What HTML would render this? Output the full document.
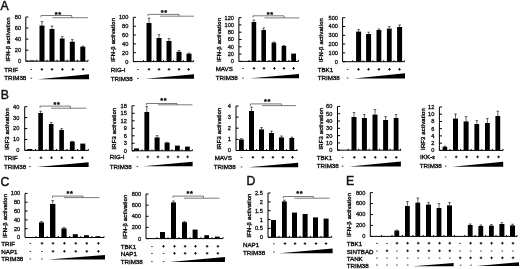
<!DOCTYPE html>
<html><head><meta charset="utf-8"><title>Figure</title>
<style>
html,body{margin:0;padding:0;background:#fff;}
body{width:520px;height:269px;overflow:hidden;}
svg{display:block;font-family:"Liberation Sans",sans-serif;fill:#000;}
.ax{fill:none;stroke:#000;stroke-width:1;}
.er{fill:none;stroke:#111;stroke-width:0.65;}
.br{fill:none;stroke:#444;stroke-width:0.7;}
.pm{fill:none;stroke:#000;stroke-width:0.9;}
.mn{fill:none;stroke:#000;stroke-width:0.8;}
text{fill:#111;stroke:#111;stroke-width:0.3;}
.st{fill:#000;stroke:#000;stroke-width:0.25;}
.tt{stroke-width:0.38;}
.pl{stroke-width:0.45;}
.rl{stroke-width:0.36;}
</style></head><body>
<svg width="520" height="269" viewBox="0 0 520 269">
<rect x="0" y="0" width="520" height="269" fill="#fff"/>
<text x="0.5" y="10.2" font-size="12.2" text-anchor="start" class="pl">A</text>
<text x="0.7" y="98.5" font-size="12.2" text-anchor="start" class="pl">B</text>
<text x="0.6" y="185.5" font-size="12.2" text-anchor="start" class="pl">C</text>
<text x="246.6" y="185.3" font-size="12.2" text-anchor="start" class="pl">D</text>
<text x="346.0" y="185.3" font-size="12.2" text-anchor="start" class="pl">E</text>
<path d="M25.8 17.0V61.2H88.0" class="ax"/>
<path d="M25.8 61.2h2.6" class="ax"/>
<text x="21.1" y="63.1" font-size="5.65" text-anchor="end" >0</text>
<path d="M25.8 50.2h2.6" class="ax"/>
<text x="21.1" y="52.0" font-size="5.65" text-anchor="end" >20</text>
<path d="M25.8 39.1h2.6" class="ax"/>
<text x="21.1" y="41.0" font-size="5.65" text-anchor="end" >40</text>
<path d="M25.8 28.0h2.6" class="ax"/>
<text x="21.1" y="29.9" font-size="5.65" text-anchor="end" >60</text>
<path d="M25.8 17.0h2.6" class="ax"/>
<text x="21.1" y="18.9" font-size="5.65" text-anchor="end" >80</text>
<path d="M36.8 61.2v-1.4" class="ax"/>
<path d="M47.0 61.2v-1.4" class="ax"/>
<path d="M57.0 61.2v-1.4" class="ax"/>
<path d="M67.2 61.2v-1.4" class="ax"/>
<path d="M77.4 61.2v-1.4" class="ax"/>
<path d="M88.0 61.2v-1.4" class="ax"/>
<text transform="translate(9.6 39.4) rotate(-90)" font-size="5.9" text-anchor="middle" letter-spacing="0.17" class="tt">IFN-β activation</text>
<rect x="29.5" y="60.5" width="5.0" height="0.7"/>
<rect x="39.5" y="25.6" width="5.0" height="35.6"/>
<path d="M42.0 25.6V21.6M40.7 21.6h2.6" class="er"/>
<rect x="49.5" y="29.0" width="5.0" height="32.2"/>
<path d="M52.0 29.0V26.0M50.7 26.0h2.6" class="er"/>
<rect x="59.8" y="38.5" width="4.8" height="22.7"/>
<path d="M62.2 38.5V36.6M60.9 36.6h2.6" class="er"/>
<rect x="69.8" y="41.7" width="5.0" height="19.5"/>
<path d="M72.3 41.7V39.6M71.0 39.6h2.6" class="er"/>
<rect x="80.3" y="46.7" width="5.0" height="14.5"/>
<path d="M82.8 46.7V46.1M81.5 46.1h2.6" class="er"/>
<path d="M41.0 17.3V15.5H71.8V17.7M52.6 17.7H87.9" class="br"/>
<text x="58.3" y="16.6" font-size="7.4" text-anchor="middle" font-weight="bold" class="st" letter-spacing="0.6">**</text>
<text x="4.3" y="71.6" font-size="6.2" text-anchor="start" class="rl">TRIF</text>
<path d="M30.6 69.5h1.5" class="mn"/>
<path d="M40.6 69.4h2.6M41.9 68.0v2.6" class="pm"/>
<path d="M50.7 69.4h2.6M52.0 68.0v2.6" class="pm"/>
<path d="M61.1 69.4h2.6M62.4 68.0v2.6" class="pm"/>
<path d="M71.5 69.4h2.6M72.8 68.0v2.6" class="pm"/>
<path d="M81.8 69.4h2.6M83.1 68.0v2.6" class="pm"/>
<text x="4.3" y="80.3" font-size="6.2" text-anchor="start" class="rl">TRIM38</text>
<path d="M30.6 78.2h1.5" class="mn"/>
<path d="M38.0 79.3L89.0 74.3V79.3Z"/>
<path d="M133.3 17.3V61.6H193.6" class="ax"/>
<path d="M133.3 61.6h2.6" class="ax"/>
<text x="128.3" y="63.5" font-size="5.65" text-anchor="end" >0</text>
<path d="M133.3 52.7h2.6" class="ax"/>
<text x="128.3" y="54.6" font-size="5.65" text-anchor="end" >20</text>
<path d="M133.3 43.9h2.6" class="ax"/>
<text x="128.3" y="45.8" font-size="5.65" text-anchor="end" >40</text>
<path d="M133.3 35.0h2.6" class="ax"/>
<text x="128.3" y="36.9" font-size="5.65" text-anchor="end" >60</text>
<path d="M133.3 26.2h2.6" class="ax"/>
<text x="128.3" y="28.0" font-size="5.65" text-anchor="end" >80</text>
<path d="M133.3 17.3h2.6" class="ax"/>
<text x="128.3" y="19.2" font-size="5.65" text-anchor="end" >100</text>
<path d="M143.5 61.6v-1.4" class="ax"/>
<path d="M153.5 61.6v-1.4" class="ax"/>
<path d="M163.5 61.6v-1.4" class="ax"/>
<path d="M173.5 61.6v-1.4" class="ax"/>
<path d="M183.5 61.6v-1.4" class="ax"/>
<path d="M193.6 61.6v-1.4" class="ax"/>
<text transform="translate(115.2 39.8) rotate(-90)" font-size="5.9" text-anchor="middle" letter-spacing="0.17" class="tt">IFN-β activation</text>
<rect x="146.5" y="23.0" width="5.0" height="38.6"/>
<path d="M149.0 23.0V18.2M147.7 18.2h2.6" class="er"/>
<rect x="156.5" y="38.0" width="5.0" height="23.6"/>
<path d="M159.0 38.0V34.6M157.7 34.6h2.6" class="er"/>
<rect x="166.5" y="41.0" width="5.0" height="20.6"/>
<path d="M169.0 41.0V38.6M167.7 38.6h2.6" class="er"/>
<rect x="176.5" y="51.8" width="5.0" height="9.8"/>
<path d="M179.0 51.8V50.6M177.7 50.6h2.6" class="er"/>
<rect x="186.5" y="53.7" width="5.0" height="7.9"/>
<path d="M189.0 53.7V53.1M187.7 53.1h2.6" class="er"/>
<path d="M148.0 16.2V14.4H179.0V16.2M160.0 16.2H194.0" class="br"/>
<text x="164.3" y="15.4" font-size="7.4" text-anchor="middle" font-weight="bold" class="st" letter-spacing="0.6">**</text>
<text x="110.7" y="71.6" font-size="6.2" text-anchor="start" class="rl">RIG-I</text>
<path d="M137.2 69.5h1.5" class="mn"/>
<path d="M147.7 69.4h2.6M149.0 68.0v2.6" class="pm"/>
<path d="M157.7 69.4h2.6M159.0 68.0v2.6" class="pm"/>
<path d="M167.7 69.4h2.6M169.0 68.0v2.6" class="pm"/>
<path d="M177.7 69.4h2.6M179.0 68.0v2.6" class="pm"/>
<path d="M187.3 69.4h2.6M188.6 68.0v2.6" class="pm"/>
<text x="110.7" y="80.6" font-size="6.2" text-anchor="start" class="rl">TRIM38</text>
<path d="M137.2 78.5h1.5" class="mn"/>
<path d="M145.6 78.7L194.0 74.3V78.7Z"/>
<path d="M238.9 17.6V61.4H298.4" class="ax"/>
<path d="M238.9 61.4h2.6" class="ax"/>
<text x="234.0" y="63.3" font-size="5.65" text-anchor="end" >0</text>
<path d="M238.9 54.1h2.6" class="ax"/>
<text x="234.0" y="56.0" font-size="5.65" text-anchor="end" >20</text>
<path d="M238.9 46.8h2.6" class="ax"/>
<text x="234.0" y="48.7" font-size="5.65" text-anchor="end" >40</text>
<path d="M238.9 39.5h2.6" class="ax"/>
<text x="234.0" y="41.4" font-size="5.65" text-anchor="end" >60</text>
<path d="M238.9 32.2h2.6" class="ax"/>
<text x="234.0" y="34.1" font-size="5.65" text-anchor="end" >80</text>
<path d="M238.9 24.9h2.6" class="ax"/>
<text x="234.0" y="26.8" font-size="5.65" text-anchor="end" >100</text>
<path d="M238.9 17.6h2.6" class="ax"/>
<text x="234.0" y="19.5" font-size="5.65" text-anchor="end" >120</text>
<path d="M249.0 61.4v-1.4" class="ax"/>
<path d="M259.0 61.4v-1.4" class="ax"/>
<path d="M269.0 61.4v-1.4" class="ax"/>
<path d="M279.0 61.4v-1.4" class="ax"/>
<path d="M289.0 61.4v-1.4" class="ax"/>
<path d="M298.4 61.4v-1.4" class="ax"/>
<text transform="translate(220.6 39.8) rotate(-90)" font-size="5.9" text-anchor="middle" letter-spacing="0.17" class="tt">IFN-β activation</text>
<rect x="251.6" y="22.0" width="4.6" height="39.4"/>
<path d="M253.9 22.0V20.0M252.6 20.0h2.6" class="er"/>
<rect x="261.4" y="30.0" width="4.6" height="31.4"/>
<path d="M263.7 30.0V28.0M262.4 28.0h2.6" class="er"/>
<rect x="271.6" y="42.6" width="4.6" height="18.8"/>
<path d="M273.9 42.6V42.0M272.6 42.0h2.6" class="er"/>
<rect x="281.6" y="46.0" width="4.6" height="15.4"/>
<path d="M283.9 46.0V45.4M282.6 45.4h2.6" class="er"/>
<rect x="291.2" y="53.6" width="4.8" height="7.8"/>
<path d="M253.0 17.6V15.8H284.0V17.9M264.6 17.9H299.3" class="br"/>
<text x="270.2" y="17.0" font-size="7.4" text-anchor="middle" font-weight="bold" class="st" letter-spacing="0.6">**</text>
<text x="215.7" y="70.6" font-size="6.2" text-anchor="start" class="rl">MAVS</text>
<path d="M242.2 68.5h1.5" class="mn"/>
<path d="M252.7 68.4h2.6M254.0 67.0v2.6" class="pm"/>
<path d="M262.7 68.4h2.6M264.0 67.0v2.6" class="pm"/>
<path d="M273.1 68.4h2.6M274.4 67.0v2.6" class="pm"/>
<path d="M282.7 68.4h2.6M284.0 67.0v2.6" class="pm"/>
<path d="M292.3 68.4h2.6M293.6 67.0v2.6" class="pm"/>
<text x="215.7" y="80.2" font-size="6.2" text-anchor="start" class="rl">TRIM38</text>
<path d="M242.2 78.1h1.5" class="mn"/>
<path d="M250.0 78.3L299.0 73.9V78.3Z"/>
<path d="M342.6 17.7V61.7H404.4" class="ax"/>
<path d="M342.6 61.7h2.6" class="ax"/>
<text x="338.0" y="63.6" font-size="5.65" text-anchor="end" >0</text>
<path d="M342.6 52.9h2.6" class="ax"/>
<text x="338.0" y="54.8" font-size="5.65" text-anchor="end" >100</text>
<path d="M342.6 44.1h2.6" class="ax"/>
<text x="338.0" y="46.0" font-size="5.65" text-anchor="end" >200</text>
<path d="M342.6 35.3h2.6" class="ax"/>
<text x="338.0" y="37.2" font-size="5.65" text-anchor="end" >300</text>
<path d="M342.6 26.5h2.6" class="ax"/>
<text x="338.0" y="28.4" font-size="5.65" text-anchor="end" >400</text>
<path d="M342.6 17.7h2.6" class="ax"/>
<text x="338.0" y="19.6" font-size="5.65" text-anchor="end" >500</text>
<path d="M352.6 61.7v-1.4" class="ax"/>
<path d="M363.0 61.7v-1.4" class="ax"/>
<path d="M373.0 61.7v-1.4" class="ax"/>
<path d="M383.6 61.7v-1.4" class="ax"/>
<path d="M394.0 61.7v-1.4" class="ax"/>
<path d="M404.4 61.7v-1.4" class="ax"/>
<text transform="translate(323.1 40.0) rotate(-90)" font-size="5.9" text-anchor="middle" letter-spacing="0.17" class="tt">IFN-β activation</text>
<rect x="356.1" y="31.6" width="5.0" height="30.1"/>
<path d="M358.6 31.6V29.6M357.3 29.6h2.6" class="er"/>
<rect x="366.1" y="34.0" width="5.0" height="27.7"/>
<path d="M368.6 34.0V32.2M367.3 32.2h2.6" class="er"/>
<rect x="376.5" y="30.0" width="4.8" height="31.7"/>
<path d="M378.9 30.0V29.0M377.6 29.0h2.6" class="er"/>
<rect x="386.9" y="28.6" width="4.8" height="33.1"/>
<path d="M389.3 28.6V26.6M388.0 26.6h2.6" class="er"/>
<rect x="397.1" y="27.0" width="5.0" height="34.7"/>
<path d="M399.6 27.0V25.0M398.3 25.0h2.6" class="er"/>
<text x="317.7" y="71.6" font-size="6.2" text-anchor="start" class="rl">TBK1</text>
<path d="M346.8 69.5h1.5" class="mn"/>
<path d="M357.2 69.4h2.6M358.5 68.0v2.6" class="pm"/>
<path d="M367.2 69.4h2.6M368.5 68.0v2.6" class="pm"/>
<path d="M377.6 69.4h2.6M378.9 68.0v2.6" class="pm"/>
<path d="M388.2 69.4h2.6M389.5 68.0v2.6" class="pm"/>
<path d="M398.2 69.4h2.6M399.5 68.0v2.6" class="pm"/>
<text x="317.7" y="80.2" font-size="6.2" text-anchor="start" class="rl">TRIM38</text>
<path d="M346.8 78.1h1.5" class="mn"/>
<path d="M354.0 78.5L405.0 73.3V78.5Z"/>
<path d="M24.7 106.7V150.4H88.4" class="ax"/>
<path d="M24.7 150.4h2.6" class="ax"/>
<text x="19.3" y="152.3" font-size="5.65" text-anchor="end" >0</text>
<path d="M24.7 139.5h2.6" class="ax"/>
<text x="19.3" y="141.4" font-size="5.65" text-anchor="end" >10</text>
<path d="M24.7 128.6h2.6" class="ax"/>
<text x="19.3" y="130.4" font-size="5.65" text-anchor="end" >20</text>
<path d="M24.7 117.6h2.6" class="ax"/>
<text x="19.3" y="119.5" font-size="5.65" text-anchor="end" >30</text>
<path d="M24.7 106.7h2.6" class="ax"/>
<text x="19.3" y="108.6" font-size="5.65" text-anchor="end" >40</text>
<path d="M35.5 150.4v-1.4" class="ax"/>
<path d="M46.0 150.4v-1.4" class="ax"/>
<path d="M56.5 150.4v-1.4" class="ax"/>
<path d="M67.0 150.4v-1.4" class="ax"/>
<path d="M77.5 150.4v-1.4" class="ax"/>
<path d="M88.4 150.4v-1.4" class="ax"/>
<text transform="translate(9.0 128.9) rotate(-90)" font-size="5.9" text-anchor="middle" letter-spacing="0.17" class="tt">IRF3 activation</text>
<rect x="27.3" y="149.0" width="5.0" height="1.4"/>
<rect x="38.3" y="113.0" width="4.6" height="37.4"/>
<path d="M40.6 113.0V111.2M39.3 111.2h2.6" class="er"/>
<rect x="48.9" y="124.0" width="4.6" height="26.4"/>
<path d="M51.2 124.0V122.6M49.9 122.6h2.6" class="er"/>
<rect x="59.3" y="130.0" width="4.6" height="20.4"/>
<path d="M61.6 130.0V128.6M60.3 128.6h2.6" class="er"/>
<rect x="69.9" y="141.6" width="4.8" height="8.8"/>
<path d="M72.3 141.6V141.4M71.0 141.4h2.6" class="er"/>
<rect x="80.3" y="143.6" width="5.0" height="6.8"/>
<path d="M40.0 107.9V106.1H70.4V108.2M51.0 108.2H86.4" class="br"/>
<text x="57.0" y="106.9" font-size="7.4" text-anchor="middle" font-weight="bold" class="st" letter-spacing="0.6">**</text>
<text x="4.1" y="160.0" font-size="6.2" text-anchor="start" class="rl">TRIF</text>
<path d="M29.2 157.9h1.5" class="mn"/>
<path d="M39.7 157.8h2.6M41.0 156.4v2.6" class="pm"/>
<path d="M50.3 157.8h2.6M51.6 156.4v2.6" class="pm"/>
<path d="M60.3 157.8h2.6M61.6 156.4v2.6" class="pm"/>
<path d="M71.1 157.8h2.6M72.4 156.4v2.6" class="pm"/>
<path d="M81.1 157.8h2.6M82.4 156.4v2.6" class="pm"/>
<text x="4.1" y="168.6" font-size="6.2" text-anchor="start" class="rl">TRIM38</text>
<path d="M29.2 166.5h1.5" class="mn"/>
<path d="M37.0 166.9L88.6 162.3V166.9Z"/>
<path d="M132.0 105.8V150.8H192.4" class="ax"/>
<path d="M132.0 150.8h2.6" class="ax"/>
<text x="126.9" y="152.7" font-size="5.65" text-anchor="end" >0</text>
<path d="M132.0 143.3h2.6" class="ax"/>
<text x="126.9" y="145.2" font-size="5.65" text-anchor="end" >3</text>
<path d="M132.0 135.8h2.6" class="ax"/>
<text x="126.9" y="137.7" font-size="5.65" text-anchor="end" >6</text>
<path d="M132.0 128.3h2.6" class="ax"/>
<text x="126.9" y="130.2" font-size="5.65" text-anchor="end" >9</text>
<path d="M132.0 120.8h2.6" class="ax"/>
<text x="126.9" y="122.7" font-size="5.65" text-anchor="end" >12</text>
<path d="M132.0 113.3h2.6" class="ax"/>
<text x="126.9" y="115.2" font-size="5.65" text-anchor="end" >15</text>
<path d="M132.0 105.8h2.6" class="ax"/>
<text x="126.9" y="107.7" font-size="5.65" text-anchor="end" >18</text>
<path d="M142.0 150.8v-1.4" class="ax"/>
<path d="M152.0 150.8v-1.4" class="ax"/>
<path d="M162.0 150.8v-1.4" class="ax"/>
<path d="M172.0 150.8v-1.4" class="ax"/>
<path d="M182.0 150.8v-1.4" class="ax"/>
<path d="M192.4 150.8v-1.4" class="ax"/>
<text transform="translate(116.3 128.6) rotate(-90)" font-size="5.9" text-anchor="middle" letter-spacing="0.17" class="tt">IRF3 activation</text>
<rect x="134.0" y="148.4" width="5.0" height="2.4"/>
<rect x="144.4" y="112.0" width="4.8" height="38.8"/>
<path d="M146.8 112.0V106.6M145.5 106.6h2.6" class="er"/>
<rect x="154.6" y="137.4" width="5.0" height="13.4"/>
<path d="M157.1 137.4V135.6M155.8 135.6h2.6" class="er"/>
<rect x="164.6" y="142.6" width="5.0" height="8.2"/>
<path d="M167.1 142.6V142.4M165.8 142.4h2.6" class="er"/>
<rect x="175.0" y="145.6" width="4.8" height="5.2"/>
<rect x="185.0" y="146.6" width="4.8" height="4.2"/>
<path d="M146.4 105.3V103.5H177.0V104.8M158.0 104.8H192.4" class="br"/>
<text x="163.8" y="103.4" font-size="7.4" text-anchor="middle" font-weight="bold" class="st" letter-spacing="0.6">**</text>
<text x="109.7" y="159.2" font-size="6.2" text-anchor="start" class="rl">RIG-I</text>
<path d="M136.7 157.1h1.5" class="mn"/>
<path d="M146.5 156.9h2.6M147.8 155.6v2.6" class="pm"/>
<path d="M156.7 156.9h2.6M158.0 155.6v2.6" class="pm"/>
<path d="M166.7 156.9h2.6M168.0 155.6v2.6" class="pm"/>
<path d="M176.7 156.9h2.6M178.0 155.6v2.6" class="pm"/>
<path d="M186.3 156.9h2.6M187.6 155.6v2.6" class="pm"/>
<text x="109.7" y="168.6" font-size="6.2" text-anchor="start" class="rl">TRIM38</text>
<path d="M136.7 166.5h1.5" class="mn"/>
<path d="M143.6 166.3L192.6 161.7V166.3Z"/>
<path d="M236.0 106.0V150.5H297.4" class="ax"/>
<path d="M236.0 150.5h2.6" class="ax"/>
<text x="231.0" y="152.4" font-size="5.65" text-anchor="end" >0</text>
<path d="M236.0 139.4h2.6" class="ax"/>
<text x="231.0" y="141.3" font-size="5.65" text-anchor="end" >1</text>
<path d="M236.0 128.2h2.6" class="ax"/>
<text x="231.0" y="130.1" font-size="5.65" text-anchor="end" >2</text>
<path d="M236.0 117.1h2.6" class="ax"/>
<text x="231.0" y="119.0" font-size="5.65" text-anchor="end" >3</text>
<path d="M236.0 106.0h2.6" class="ax"/>
<text x="231.0" y="107.9" font-size="5.65" text-anchor="end" >4</text>
<path d="M246.5 150.5v-1.4" class="ax"/>
<path d="M256.5 150.5v-1.4" class="ax"/>
<path d="M266.5 150.5v-1.4" class="ax"/>
<path d="M276.5 150.5v-1.4" class="ax"/>
<path d="M286.5 150.5v-1.4" class="ax"/>
<path d="M297.0 150.5v-1.4" class="ax"/>
<text transform="translate(220.6 128.6) rotate(-90)" font-size="5.9" text-anchor="middle" letter-spacing="0.17" class="tt">IRF3 activation</text>
<rect x="239.0" y="139.4" width="4.8" height="11.1"/>
<path d="M241.4 139.4V138.6M240.1 138.6h2.6" class="er"/>
<rect x="249.0" y="111.0" width="5.0" height="39.5"/>
<path d="M251.5 111.0V107.2M250.2 107.2h2.6" class="er"/>
<rect x="259.0" y="129.4" width="5.0" height="21.1"/>
<path d="M261.5 129.4V127.6M260.2 127.6h2.6" class="er"/>
<rect x="269.0" y="133.0" width="5.0" height="17.5"/>
<path d="M271.5 133.0V131.2M270.2 131.2h2.6" class="er"/>
<rect x="279.0" y="137.4" width="5.0" height="13.1"/>
<path d="M281.5 137.4V136.0M280.2 136.0h2.6" class="er"/>
<rect x="289.4" y="138.0" width="4.8" height="12.5"/>
<path d="M291.8 138.0V137.2M290.5 137.2h2.6" class="er"/>
<path d="M250.4 105.7V103.9H281.4V105.6M262.0 105.6H296.0" class="br"/>
<text x="267.5" y="104.2" font-size="7.4" text-anchor="middle" font-weight="bold" class="st" letter-spacing="0.6">**</text>
<text x="214.7" y="159.6" font-size="6.2" text-anchor="start" class="rl">MAVS</text>
<path d="M240.8 157.5h1.5" class="mn"/>
<path d="M251.6 157.3h2.6M252.9 156.0v2.6" class="pm"/>
<path d="M261.6 157.3h2.6M262.9 156.0v2.6" class="pm"/>
<path d="M271.6 157.3h2.6M272.9 156.0v2.6" class="pm"/>
<path d="M281.6 157.3h2.6M282.9 156.0v2.6" class="pm"/>
<path d="M291.2 157.3h2.6M292.5 156.0v2.6" class="pm"/>
<text x="213.7" y="169.0" font-size="6.2" text-anchor="start" class="rl">TRIM38</text>
<path d="M240.8 166.9h1.5" class="mn"/>
<path d="M248.6 167.3L298.2 162.7V167.3Z"/>
<path d="M337.5 106.4V150.2H401.0" class="ax"/>
<path d="M337.5 150.2h2.6" class="ax"/>
<text x="332.4" y="152.1" font-size="5.65" text-anchor="end" >0</text>
<path d="M337.5 142.9h2.6" class="ax"/>
<text x="332.4" y="144.8" font-size="5.65" text-anchor="end" >10</text>
<path d="M337.5 135.6h2.6" class="ax"/>
<text x="332.4" y="137.5" font-size="5.65" text-anchor="end" >20</text>
<path d="M337.5 128.3h2.6" class="ax"/>
<text x="332.4" y="130.2" font-size="5.65" text-anchor="end" >30</text>
<path d="M337.5 121.0h2.6" class="ax"/>
<text x="332.4" y="122.9" font-size="5.65" text-anchor="end" >40</text>
<path d="M337.5 113.7h2.6" class="ax"/>
<text x="332.4" y="115.6" font-size="5.65" text-anchor="end" >50</text>
<path d="M337.5 106.4h2.6" class="ax"/>
<text x="332.4" y="108.3" font-size="5.65" text-anchor="end" >60</text>
<path d="M348.2 150.2v-1.4" class="ax"/>
<path d="M358.7 150.2v-1.4" class="ax"/>
<path d="M369.2 150.2v-1.4" class="ax"/>
<path d="M379.7 150.2v-1.4" class="ax"/>
<path d="M390.2 150.2v-1.4" class="ax"/>
<path d="M400.6 150.2v-1.4" class="ax"/>
<text transform="translate(322.6 128.6) rotate(-90)" font-size="5.9" text-anchor="middle" letter-spacing="0.17" class="tt">IRF3 activation</text>
<rect x="351.5" y="117.0" width="5.0" height="33.2"/>
<path d="M354.0 117.0V112.6M352.7 112.6h2.6" class="er"/>
<rect x="361.9" y="118.0" width="5.0" height="32.2"/>
<path d="M364.4 118.0V114.6M363.1 114.6h2.6" class="er"/>
<rect x="372.5" y="114.6" width="5.0" height="35.6"/>
<path d="M375.0 114.6V109.6M373.7 109.6h2.6" class="er"/>
<rect x="383.1" y="120.0" width="5.0" height="30.2"/>
<path d="M385.6 120.0V116.6M384.3 116.6h2.6" class="er"/>
<rect x="393.7" y="118.0" width="4.8" height="32.2"/>
<path d="M396.1 118.0V114.6M394.8 114.6h2.6" class="er"/>
<text x="316.7" y="159.6" font-size="6.2" text-anchor="start" class="rl">TBK1</text>
<path d="M341.9 157.5h1.5" class="mn"/>
<path d="M353.0 157.3h2.6M354.3 156.0v2.6" class="pm"/>
<path d="M363.4 157.3h2.6M364.7 156.0v2.6" class="pm"/>
<path d="M374.0 157.3h2.6M375.3 156.0v2.6" class="pm"/>
<path d="M384.4 157.3h2.6M385.7 156.0v2.6" class="pm"/>
<path d="M395.0 157.3h2.6M396.3 156.0v2.6" class="pm"/>
<text x="316.7" y="168.2" font-size="6.2" text-anchor="start" class="rl">TRIM38</text>
<path d="M341.9 166.1h1.5" class="mn"/>
<path d="M349.5 166.6L400.9 161.5V166.6Z"/>
<path d="M439.4 107.0V150.4H503.0" class="ax"/>
<path d="M439.4 150.4h2.6" class="ax"/>
<text x="434.4" y="152.3" font-size="5.65" text-anchor="end" >0</text>
<path d="M439.4 143.2h2.6" class="ax"/>
<text x="434.4" y="145.1" font-size="5.65" text-anchor="end" >2</text>
<path d="M439.4 135.9h2.6" class="ax"/>
<text x="434.4" y="137.8" font-size="5.65" text-anchor="end" >4</text>
<path d="M439.4 128.7h2.6" class="ax"/>
<text x="434.4" y="130.6" font-size="5.65" text-anchor="end" >6</text>
<path d="M439.4 121.5h2.6" class="ax"/>
<text x="434.4" y="123.4" font-size="5.65" text-anchor="end" >8</text>
<path d="M439.4 114.2h2.6" class="ax"/>
<text x="434.4" y="116.1" font-size="5.65" text-anchor="end" >10</text>
<path d="M439.4 107.0h2.6" class="ax"/>
<text x="434.4" y="108.9" font-size="5.65" text-anchor="end" >12</text>
<path d="M450.0 150.4v-1.4" class="ax"/>
<path d="M460.6 150.4v-1.4" class="ax"/>
<path d="M471.2 150.4v-1.4" class="ax"/>
<path d="M481.8 150.4v-1.4" class="ax"/>
<path d="M492.4 150.4v-1.4" class="ax"/>
<path d="M503.0 150.4v-1.4" class="ax"/>
<text transform="translate(424.8 129.0) rotate(-90)" font-size="5.9" text-anchor="middle" letter-spacing="0.17" class="tt">IRF3 activation</text>
<rect x="442.6" y="146.8" width="4.6" height="3.6"/>
<path d="M444.9 146.8V146.2M443.6 146.2h2.6" class="er"/>
<rect x="453.0" y="118.6" width="5.0" height="31.8"/>
<path d="M455.5 118.6V114.0M454.2 114.0h2.6" class="er"/>
<rect x="463.6" y="121.4" width="5.0" height="29.0"/>
<path d="M466.1 121.4V116.6M464.8 116.6h2.6" class="er"/>
<rect x="474.4" y="124.0" width="4.8" height="26.4"/>
<path d="M476.8 124.0V120.6M475.5 120.6h2.6" class="er"/>
<rect x="485.0" y="123.0" width="4.8" height="27.4"/>
<path d="M487.4 123.0V118.6M486.1 118.6h2.6" class="er"/>
<rect x="495.4" y="116.0" width="4.8" height="34.4"/>
<path d="M497.8 116.0V111.2M496.5 111.2h2.6" class="er"/>
<text x="420.1" y="159.2" font-size="6.2" text-anchor="start" class="rl">IKK-ε</text>
<path d="M444.9 157.1h1.5" class="mn"/>
<path d="M454.9 156.9h2.6M456.2 155.6v2.6" class="pm"/>
<path d="M465.3 156.9h2.6M466.6 155.6v2.6" class="pm"/>
<path d="M476.3 156.9h2.6M477.6 155.6v2.6" class="pm"/>
<path d="M486.9 156.9h2.6M488.2 155.6v2.6" class="pm"/>
<path d="M497.3 156.9h2.6M498.6 155.6v2.6" class="pm"/>
<text x="419.7" y="168.2" font-size="6.2" text-anchor="start" class="rl">TRIM38</text>
<path d="M444.9 166.1h1.5" class="mn"/>
<path d="M452.4 166.7L503.2 161.7V166.7Z"/>
<path d="M25.0 193.4V237.5H104.0" class="ax"/>
<path d="M25.0 237.5h2.6" class="ax"/>
<text x="20.2" y="239.4" font-size="5.65" text-anchor="end" >0</text>
<path d="M25.0 228.7h2.6" class="ax"/>
<text x="20.2" y="230.6" font-size="5.65" text-anchor="end" >20</text>
<path d="M25.0 219.9h2.6" class="ax"/>
<text x="20.2" y="221.7" font-size="5.65" text-anchor="end" >40</text>
<path d="M25.0 211.0h2.6" class="ax"/>
<text x="20.2" y="212.9" font-size="5.65" text-anchor="end" >60</text>
<path d="M25.0 202.2h2.6" class="ax"/>
<text x="20.2" y="204.1" font-size="5.65" text-anchor="end" >80</text>
<path d="M25.0 193.4h2.6" class="ax"/>
<text x="20.2" y="195.3" font-size="5.65" text-anchor="end" >100</text>
<path d="M36.0 237.5v-1.4" class="ax"/>
<path d="M47.2 237.5v-1.4" class="ax"/>
<path d="M58.4 237.5v-1.4" class="ax"/>
<path d="M69.6 237.5v-1.4" class="ax"/>
<path d="M80.8 237.5v-1.4" class="ax"/>
<path d="M92.0 237.5v-1.4" class="ax"/>
<path d="M104.0 237.5v-1.4" class="ax"/>
<text transform="translate(7.0 215.8) rotate(-90)" font-size="5.9" text-anchor="middle" letter-spacing="0.17" class="tt">IFN-β activation</text>
<rect x="39.0" y="222.4" width="5.0" height="15.1"/>
<path d="M41.5 222.4V221.6M40.2 221.6h2.6" class="er"/>
<rect x="50.0" y="204.0" width="5.4" height="33.5"/>
<path d="M52.7 204.0V200.6M51.4 200.6h2.6" class="er"/>
<rect x="61.4" y="228.4" width="5.2" height="9.1"/>
<path d="M64.0 228.4V227.6M62.7 227.6h2.6" class="er"/>
<rect x="72.8" y="234.2" width="5.0" height="3.3"/>
<rect x="84.0" y="235.2" width="5.0" height="2.3"/>
<rect x="95.4" y="236.2" width="5.0" height="1.3"/>
<path d="M52.4 197.9V196.1H83.0V197.6M64.0 197.6H99.4" class="br"/>
<text x="70.0" y="195.9" font-size="7.4" text-anchor="middle" font-weight="bold" class="st" letter-spacing="0.6">**</text>
<text x="1.3" y="245.6" font-size="6.2" text-anchor="start" class="rl">TRIF</text>
<path d="M29.6 243.5h1.5" class="mn"/>
<path d="M40.7 243.3h2.6M42.0 242.0v2.6" class="pm"/>
<path d="M51.7 243.3h2.6M53.0 242.0v2.6" class="pm"/>
<path d="M63.1 243.3h2.6M64.4 242.0v2.6" class="pm"/>
<path d="M74.5 243.3h2.6M75.8 242.0v2.6" class="pm"/>
<path d="M85.5 243.3h2.6M86.8 242.0v2.6" class="pm"/>
<path d="M97.1 243.3h2.6M98.4 242.0v2.6" class="pm"/>
<text x="1.3" y="253.6" font-size="6.2" text-anchor="start" class="rl">NAP1</text>
<path d="M29.6 251.5h1.5" class="mn"/>
<path d="M41.2 251.5h1.5" class="mn"/>
<path d="M51.7 251.3h2.6M53.0 250.0v2.6" class="pm"/>
<path d="M63.1 251.3h2.6M64.4 250.0v2.6" class="pm"/>
<path d="M74.5 251.3h2.6M75.8 250.0v2.6" class="pm"/>
<path d="M85.5 251.3h2.6M86.8 250.0v2.6" class="pm"/>
<path d="M97.1 251.3h2.6M98.4 250.0v2.6" class="pm"/>
<text x="1.3" y="260.9" font-size="6.2" text-anchor="start" class="rl">TRIM38</text>
<path d="M29.6 258.9h1.5" class="mn"/>
<path d="M41.2 258.9h1.5" class="mn"/>
<path d="M48.0 259.5L105.0 254.9V259.5Z"/>
<path d="M146.0 194.0V238.6H223.0" class="ax"/>
<path d="M146.0 238.6h2.6" class="ax"/>
<text x="141.1" y="240.5" font-size="5.65" text-anchor="end" >0</text>
<path d="M146.0 227.4h2.6" class="ax"/>
<text x="141.1" y="229.3" font-size="5.65" text-anchor="end" >200</text>
<path d="M146.0 216.3h2.6" class="ax"/>
<text x="141.1" y="218.2" font-size="5.65" text-anchor="end" >400</text>
<path d="M146.0 205.2h2.6" class="ax"/>
<text x="141.1" y="207.0" font-size="5.65" text-anchor="end" >600</text>
<path d="M146.0 194.0h2.6" class="ax"/>
<text x="141.1" y="195.9" font-size="5.65" text-anchor="end" >800</text>
<path d="M157.0 238.6v-1.4" class="ax"/>
<path d="M168.0 238.6v-1.4" class="ax"/>
<path d="M179.0 238.6v-1.4" class="ax"/>
<path d="M190.0 238.6v-1.4" class="ax"/>
<path d="M201.0 238.6v-1.4" class="ax"/>
<path d="M212.0 238.6v-1.4" class="ax"/>
<path d="M223.0 238.6v-1.4" class="ax"/>
<text transform="translate(127.4 216.6) rotate(-90)" font-size="5.9" text-anchor="middle" letter-spacing="0.17" class="tt">IFN-β activation</text>
<rect x="160.0" y="232.0" width="5.0" height="6.6"/>
<rect x="171.0" y="202.4" width="5.0" height="36.2"/>
<path d="M173.5 202.4V201.0M172.2 201.0h2.6" class="er"/>
<rect x="182.0" y="222.2" width="5.0" height="16.4"/>
<path d="M184.5 222.2V221.6M183.2 221.6h2.6" class="er"/>
<rect x="192.6" y="229.6" width="5.0" height="9.0"/>
<rect x="204.3" y="235.2" width="4.7" height="3.4"/>
<rect x="214.8" y="236.6" width="5.0" height="2.0"/>
<path d="M173.0 197.9V196.1H203.4V198.2M184.0 198.2H219.4" class="br"/>
<text x="190.0" y="196.4" font-size="7.4" text-anchor="middle" font-weight="bold" class="st" letter-spacing="0.6">**</text>
<text x="120.7" y="248.6" font-size="6.2" text-anchor="start" class="rl">TBK1</text>
<path d="M151.2 246.5h1.5" class="mn"/>
<path d="M162.2 246.3h2.6M163.5 245.0v2.6" class="pm"/>
<path d="M173.2 246.3h2.6M174.5 245.0v2.6" class="pm"/>
<path d="M183.8 246.3h2.6M185.1 245.0v2.6" class="pm"/>
<path d="M194.2 246.3h2.6M195.5 245.0v2.6" class="pm"/>
<path d="M205.8 246.3h2.6M207.1 245.0v2.6" class="pm"/>
<path d="M216.6 246.3h2.6M217.9 245.0v2.6" class="pm"/>
<text x="120.7" y="255.6" font-size="6.2" text-anchor="start" class="rl">NAP1</text>
<path d="M151.2 253.5h1.5" class="mn"/>
<path d="M162.8 253.5h1.5" class="mn"/>
<path d="M173.2 253.3h2.6M174.5 252.0v2.6" class="pm"/>
<path d="M183.8 253.3h2.6M185.1 252.0v2.6" class="pm"/>
<path d="M194.2 253.3h2.6M195.5 252.0v2.6" class="pm"/>
<path d="M205.8 253.3h2.6M207.1 252.0v2.6" class="pm"/>
<path d="M216.6 253.3h2.6M217.9 252.0v2.6" class="pm"/>
<text x="120.7" y="263.6" font-size="6.2" text-anchor="start" class="rl">TRIM38</text>
<path d="M151.2 261.6h1.5" class="mn"/>
<path d="M162.8 261.6h1.5" class="mn"/>
<path d="M169.7 261.9L225.0 256.9V261.9Z"/>
<path d="M268.0 193.0V237.3H331.6" class="ax"/>
<path d="M268.0 237.3h2.6" class="ax"/>
<text x="262.8" y="239.2" font-size="5.65" text-anchor="end" >0</text>
<path d="M268.0 228.4h2.6" class="ax"/>
<text x="262.8" y="230.3" font-size="5.65" text-anchor="end" >0.5</text>
<path d="M268.0 219.6h2.6" class="ax"/>
<text x="262.8" y="221.5" font-size="5.65" text-anchor="end" >1</text>
<path d="M268.0 210.7h2.6" class="ax"/>
<text x="262.8" y="212.6" font-size="5.65" text-anchor="end" >1.5</text>
<path d="M268.0 201.9h2.6" class="ax"/>
<text x="262.8" y="203.7" font-size="5.65" text-anchor="end" >2</text>
<path d="M268.0 193.0h2.6" class="ax"/>
<text x="262.8" y="194.9" font-size="5.65" text-anchor="end" >2.5</text>
<path d="M279.0 237.3v-1.4" class="ax"/>
<path d="M289.5 237.3v-1.4" class="ax"/>
<path d="M300.0 237.3v-1.4" class="ax"/>
<path d="M310.5 237.3v-1.4" class="ax"/>
<path d="M321.0 237.3v-1.4" class="ax"/>
<path d="M331.6 237.3v-1.4" class="ax"/>
<text transform="translate(251.1 215.5) rotate(-90)" font-size="5.9" text-anchor="middle" letter-spacing="0.17" class="tt">IFN-β activation</text>
<rect x="271.0" y="220.0" width="5.0" height="17.3"/>
<rect x="282.0" y="201.4" width="4.8" height="35.9"/>
<path d="M284.4 201.4V200.2M283.1 200.2h2.6" class="er"/>
<rect x="292.0" y="212.6" width="5.0" height="24.7"/>
<rect x="302.6" y="214.0" width="5.0" height="23.3"/>
<rect x="313.0" y="217.4" width="5.0" height="19.9"/>
<rect x="323.6" y="218.6" width="5.0" height="18.7"/>
<path d="M283.4 198.3V196.5H313.4V198.2M294.4 198.2H329.6" class="br"/>
<text x="299.8" y="196.1" font-size="7.4" text-anchor="middle" font-weight="bold" class="st" letter-spacing="0.6">**</text>
<text x="243.0" y="246.7" font-size="6.2" text-anchor="start" class="rl">NAP1</text>
<path d="M273.2 243.8h1.5" class="mn"/>
<path d="M283.7 243.6h2.6M285.0 242.3v2.6" class="pm"/>
<path d="M293.7 243.6h2.6M295.0 242.3v2.6" class="pm"/>
<path d="M303.7 243.6h2.6M305.0 242.3v2.6" class="pm"/>
<path d="M314.7 243.6h2.6M316.0 242.3v2.6" class="pm"/>
<path d="M324.7 243.6h2.6M326.0 242.3v2.6" class="pm"/>
<text x="243.1" y="254.8" font-size="6.2" text-anchor="start" class="rl">TRIM38</text>
<path d="M273.2 251.9h1.5" class="mn"/>
<path d="M279.6 253.3L332.6 248.5V253.3Z"/>
<path d="M370.3 192.6V236.4H517.0" class="ax"/>
<path d="M370.3 236.4h2.6" class="ax"/>
<text x="365.3" y="238.3" font-size="5.65" text-anchor="end" >0</text>
<path d="M370.3 225.4h2.6" class="ax"/>
<text x="365.3" y="227.3" font-size="5.65" text-anchor="end" >200</text>
<path d="M370.3 214.5h2.6" class="ax"/>
<text x="365.3" y="216.4" font-size="5.65" text-anchor="end" >400</text>
<path d="M370.3 203.6h2.6" class="ax"/>
<text x="365.3" y="205.4" font-size="5.65" text-anchor="end" >600</text>
<path d="M370.3 192.6h2.6" class="ax"/>
<text x="365.3" y="194.5" font-size="5.65" text-anchor="end" >800</text>
<path d="M381.6 236.4v-1.4" class="ax"/>
<path d="M392.0 236.4v-1.4" class="ax"/>
<path d="M402.4 236.4v-1.4" class="ax"/>
<path d="M412.8 236.4v-1.4" class="ax"/>
<path d="M423.2 236.4v-1.4" class="ax"/>
<path d="M433.6 236.4v-1.4" class="ax"/>
<path d="M444.0 236.4v-1.4" class="ax"/>
<path d="M454.4 236.4v-1.4" class="ax"/>
<path d="M464.8 236.4v-1.4" class="ax"/>
<path d="M475.2 236.4v-1.4" class="ax"/>
<path d="M485.6 236.4v-1.4" class="ax"/>
<path d="M496.0 236.4v-1.4" class="ax"/>
<path d="M506.4 236.4v-1.4" class="ax"/>
<path d="M517.0 236.4v-1.4" class="ax"/>
<text transform="translate(350.9 214.8) rotate(-90)" font-size="5.9" text-anchor="middle" letter-spacing="0.17" class="tt">IFN-β activation</text>
<rect x="394.4" y="230.6" width="4.8" height="5.8"/>
<path d="M396.8 230.6V230.2M395.5 230.2h2.6" class="er"/>
<rect x="405.0" y="206.0" width="4.8" height="30.4"/>
<path d="M407.4 206.0V201.6M406.1 201.6h2.6" class="er"/>
<rect x="415.4" y="202.6" width="4.8" height="33.8"/>
<path d="M417.8 202.6V198.0M416.5 198.0h2.6" class="er"/>
<rect x="426.0" y="204.6" width="5.0" height="31.8"/>
<path d="M428.5 204.6V202.6M427.2 202.6h2.6" class="er"/>
<rect x="436.6" y="208.0" width="4.8" height="28.4"/>
<path d="M439.0 208.0V203.6M437.7 203.6h2.6" class="er"/>
<rect x="447.0" y="205.4" width="5.0" height="31.0"/>
<path d="M449.5 205.4V202.6M448.2 202.6h2.6" class="er"/>
<rect x="467.8" y="225.0" width="4.8" height="11.4"/>
<path d="M470.2 225.0V224.0M468.9 224.0h2.6" class="er"/>
<rect x="478.4" y="226.0" width="4.8" height="10.4"/>
<path d="M480.8 226.0V225.0M479.5 225.0h2.6" class="er"/>
<rect x="489.0" y="225.6" width="4.8" height="10.8"/>
<path d="M491.4 225.6V224.6M490.1 224.6h2.6" class="er"/>
<rect x="499.4" y="224.0" width="5.0" height="12.4"/>
<path d="M501.9 224.0V222.6M500.6 222.6h2.6" class="er"/>
<rect x="510.0" y="225.4" width="5.0" height="11.0"/>
<path d="M512.5 225.4V224.2M511.2 224.2h2.6" class="er"/>
<text x="346.7" y="246.3" font-size="6.2" text-anchor="start" class="rl">TBK1</text>
<path d="M376.2 243.4h1.5" class="mn"/>
<path d="M386.2 243.4h1.5" class="mn"/>
<path d="M395.7 243.2h2.6M397.0 241.9v2.6" class="pm"/>
<path d="M406.3 243.2h2.6M407.6 241.9v2.6" class="pm"/>
<path d="M416.9 243.2h2.6M418.2 241.9v2.6" class="pm"/>
<path d="M427.7 243.2h2.6M429.0 241.9v2.6" class="pm"/>
<path d="M438.3 243.2h2.6M439.6 241.9v2.6" class="pm"/>
<path d="M448.5 243.2h2.6M449.8 241.9v2.6" class="pm"/>
<path d="M459.4 243.4h1.5" class="mn"/>
<path d="M469.3 243.2h2.6M470.6 241.9v2.6" class="pm"/>
<path d="M479.7 243.2h2.6M481.0 241.9v2.6" class="pm"/>
<path d="M490.3 243.2h2.6M491.6 241.9v2.6" class="pm"/>
<path d="M501.1 243.2h2.6M502.4 241.9v2.6" class="pm"/>
<path d="M511.7 243.2h2.6M513.0 241.9v2.6" class="pm"/>
<text x="346.7" y="253.9" font-size="6.2" text-anchor="start" class="rl">SINTBAD</text>
<path d="M376.2 251.0h1.5" class="mn"/>
<path d="M385.7 250.8h2.6M387.0 249.5v2.6" class="pm"/>
<path d="M396.2 251.0h1.5" class="mn"/>
<path d="M406.3 250.8h2.6M407.6 249.5v2.6" class="pm"/>
<path d="M416.9 250.8h2.6M418.2 249.5v2.6" class="pm"/>
<path d="M427.7 250.8h2.6M429.0 249.5v2.6" class="pm"/>
<path d="M438.3 250.8h2.6M439.6 249.5v2.6" class="pm"/>
<path d="M448.5 250.8h2.6M449.8 249.5v2.6" class="pm"/>
<path d="M459.4 251.0h1.5" class="mn"/>
<path d="M469.9 251.0h1.5" class="mn"/>
<path d="M480.2 251.0h1.5" class="mn"/>
<path d="M490.9 251.0h1.5" class="mn"/>
<path d="M501.6 251.0h1.5" class="mn"/>
<path d="M512.2 251.0h1.5" class="mn"/>
<text x="346.7" y="260.9" font-size="6.2" text-anchor="start" class="rl">TANK</text>
<path d="M376.2 258.1h1.5" class="mn"/>
<path d="M386.2 258.1h1.5" class="mn"/>
<path d="M396.2 258.1h1.5" class="mn"/>
<path d="M406.9 258.1h1.5" class="mn"/>
<path d="M417.4 258.1h1.5" class="mn"/>
<path d="M428.2 258.1h1.5" class="mn"/>
<path d="M438.9 258.1h1.5" class="mn"/>
<path d="M449.1 258.1h1.5" class="mn"/>
<path d="M458.9 257.8h2.6M460.2 256.6v2.6" class="pm"/>
<path d="M469.3 257.8h2.6M470.6 256.6v2.6" class="pm"/>
<path d="M479.7 257.8h2.6M481.0 256.6v2.6" class="pm"/>
<path d="M490.3 257.8h2.6M491.6 256.6v2.6" class="pm"/>
<path d="M501.1 257.8h2.6M502.4 256.6v2.6" class="pm"/>
<path d="M511.7 257.8h2.6M513.0 256.6v2.6" class="pm"/>
<text x="346.7" y="267.9" font-size="6.2" text-anchor="start" class="rl">TRIM38</text>
<path d="M376.2 265.1h1.5" class="mn"/>
<path d="M386.2 265.1h1.5" class="mn"/>
<path d="M396.2 265.1h1.5" class="mn"/>
<path d="M406.9 265.1h1.5" class="mn"/>
<path d="M413.0 266.3L453.6 262.9V266.3Z"/>
<path d="M477.0 265.9L519.0 262.3V265.9Z"/>
<path d="M459.9 265.2h1.5" class="mn"/>
<path d="M470.2 265.2h1.5" class="mn"/>
</svg>
</body></html>
